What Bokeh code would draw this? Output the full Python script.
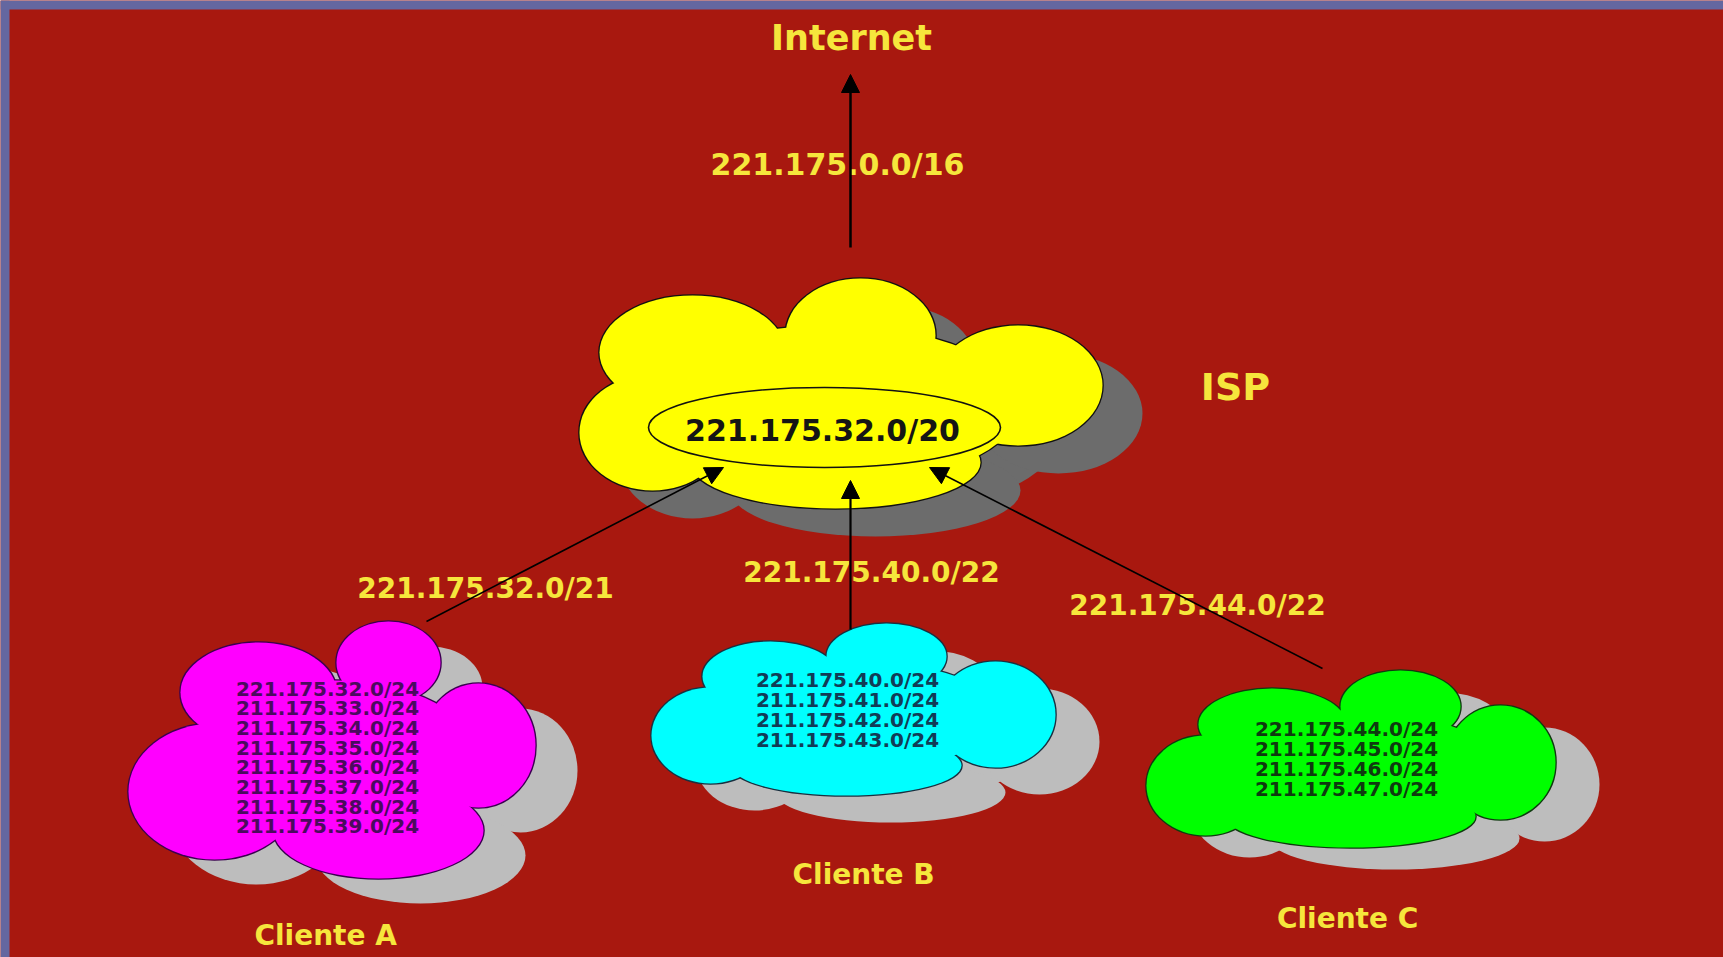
from bokeh.plotting import figure
from bokeh.models import Range1d, Arrow, NormalHead, ColumnDataSource
from bokeh.core.properties import value
from bokeh.embed import file_html
from bokeh.resources import INLINE

# ---------------- data (texts of the diagram) ----------------
top_label = "Internet"
uplink_block = "221.175.0.0/16"
isp_label = "ISP"
isp_block = "221.175.32.0/20"
client_names = ["Cliente  A", "Cliente  B", "Cliente  C"]
client_links = ["221.175.32.0/21", "221.175.40.0/22", "221.175.44.0/22"]
client_a_nets = ["221.175.32.0/24", "211.175.33.0/24", "211.175.34.0/24", "211.175.35.0/24",
                 "211.175.36.0/24", "211.175.37.0/24", "211.175.38.0/24", "211.175.39.0/24"]
client_b_nets = ["221.175.40.0/24", "211.175.41.0/24", "211.175.42.0/24", "211.175.43.0/24"]
client_c_nets = ["221.175.44.0/24", "211.175.45.0/24", "211.175.46.0/24", "211.175.47.0/24"]

# ---------------- layout (pixel space of the slide) ----------------
W, H = 1723, 957
FONT = value("DejaVu Sans")
YELLOW = "#f6e63c"

# cloud lobes: (cx, cy, w, h)
isp_lobes = [(830, 405, 380, 160), (860, 335, 150, 114), (692, 352, 186, 114),
             (1018, 385, 168, 120), (652, 432, 146, 116), (835, 462, 290, 92)]
a_lobes = [(335, 755, 280, 150), (388, 662, 104, 82), (258, 692, 156, 100),
           (478, 745, 114, 124), (214, 791, 172, 136), (378, 830, 210, 96)]
b_lobes = [(850, 715, 300, 110), (886, 656, 120, 66), (770, 676, 136, 70),
           (995, 714, 120, 106), (710, 735, 118, 96), (846, 765, 230, 60)]
c_lobes = [(1350, 770, 300, 120), (1400, 706, 120, 72), (1272, 724, 148, 72),
           (1500, 762, 110, 114), (1205, 785, 118, 100), (1350, 816, 250, 62)]

clouds = [
    (isp_lobes, "#ffff00", "#111111", "#6c6c6c", (40, 28)),
    (a_lobes, "#ff00ff", "#3a0050", "#bdbdbd", (42, 25)),
    (b_lobes, "#00ffff", "#1a3040", "#bdbdbd", (44, 27)),
    (c_lobes, "#00ff00", "#103a10", "#bdbdbd", (44, 22)),
]

p = figure(width=W, height=H, x_range=Range1d(0, W), y_range=Range1d(H, 0),
           output_backend="svg", toolbar_location=None, x_axis_type=None, y_axis_type=None,
           min_border=0)
p.grid.visible = False
p.outline_line_color = None
p.background_fill_color = "#a8180f"
p.border_fill_color = "#a8180f"

# slide frame (blue strip at top/left)
p.quad(left=[0, 0], right=[9, W], top=[0, 0], bottom=[H, 9],
       fill_color="#6467a0", line_color=None)

def lobe_src(lobes, dx=0, dy=0):
    return ColumnDataSource(dict(x=[l[0] + dx for l in lobes], y=[l[1] + dy for l in lobes],
                                 w=[l[2] for l in lobes], h=[l[3] for l in lobes]))

for lobes, fill, edge, shadow, (dx, dy) in clouds:
    p.ellipse(x="x", y="y", width="w", height="h", source=lobe_src(lobes, dx, dy),
              fill_color=shadow, line_color=None)
for lobes, fill, edge, shadow, (dx, dy) in clouds:
    src = lobe_src(lobes)
    p.ellipse(x="x", y="y", width="w", height="h", source=src,
              fill_color=fill, line_color=edge, line_width=2.6)
    p.ellipse(x="x", y="y", width="w", height="h", source=src,
              fill_color=fill, line_color=None)

# ISP inner ellipse
p.ellipse(x=[824], y=[427], width=[352], height=[80], fill_color=None,
          line_color="#111111", line_width=1.6)

# yellow labels
lbl = ColumnDataSource(dict(
    x=[851, 837, 1235, 485, 871, 1197],
    y=[37, 164, 386, 588, 572, 605],
    t=[top_label, uplink_block, isp_label] + client_links,
    s=["35px", "30px", "38px", "28px", "28px", "28px"],
))
p.text(x="x", y="y", text="t", source=lbl, text_font=FONT, text_font_style="bold",
       text_font_size="s", text_color=YELLOW, text_align="center", text_baseline="middle")

names = ColumnDataSource(dict(x=[330, 868, 1352], y=[935, 874, 918], t=client_names))
p.text(x="x", y="y", text="t", source=names, text_font=FONT, text_font_style="bold",
       text_font_size=value("28px"), text_color=YELLOW, text_align="center",
       text_baseline="middle")

p.text(x=[822], y=[430], text=[isp_block], text_font=FONT, text_font_style="bold",
       text_font_size=value("30px"), text_color="#151515", text_align="center",
       text_baseline="middle")

# client prefix lists
for nets, cx, y0, step, col in [(client_a_nets, 327, 688, 19.7, "#4b0b5e"),
                                (client_b_nets, 847, 679, 20.0, "#123c56"),
                                (client_c_nets, 1346, 728, 20.0, "#0f3a10")]:
    src = ColumnDataSource(dict(x=[cx] * len(nets), y=[y0 + i * step for i in range(len(nets))], t=nets))
    p.text(x="x", y="y", text="t", source=src, text_font=FONT, text_font_style="bold",
           text_font_size=value("20px"), text_color=col, text_align="center",
           text_baseline="middle")

# arrows
for (xs, ys, xe, ye, lw) in [(850, 247, 850, 74, 2.5), (426, 621, 723, 467, 1.6),
                             (850, 629, 850, 480, 2.2), (1322, 668, 929, 467, 1.6)]:
    p.add_layout(Arrow(end=NormalHead(size=18, fill_color="black", line_color="black"),
                       x_start=xs, y_start=ys, x_end=xe, y_end=ye,
                       line_width=lw, line_color="black"))

open("out.html", "w").write(file_html(p, INLINE))
